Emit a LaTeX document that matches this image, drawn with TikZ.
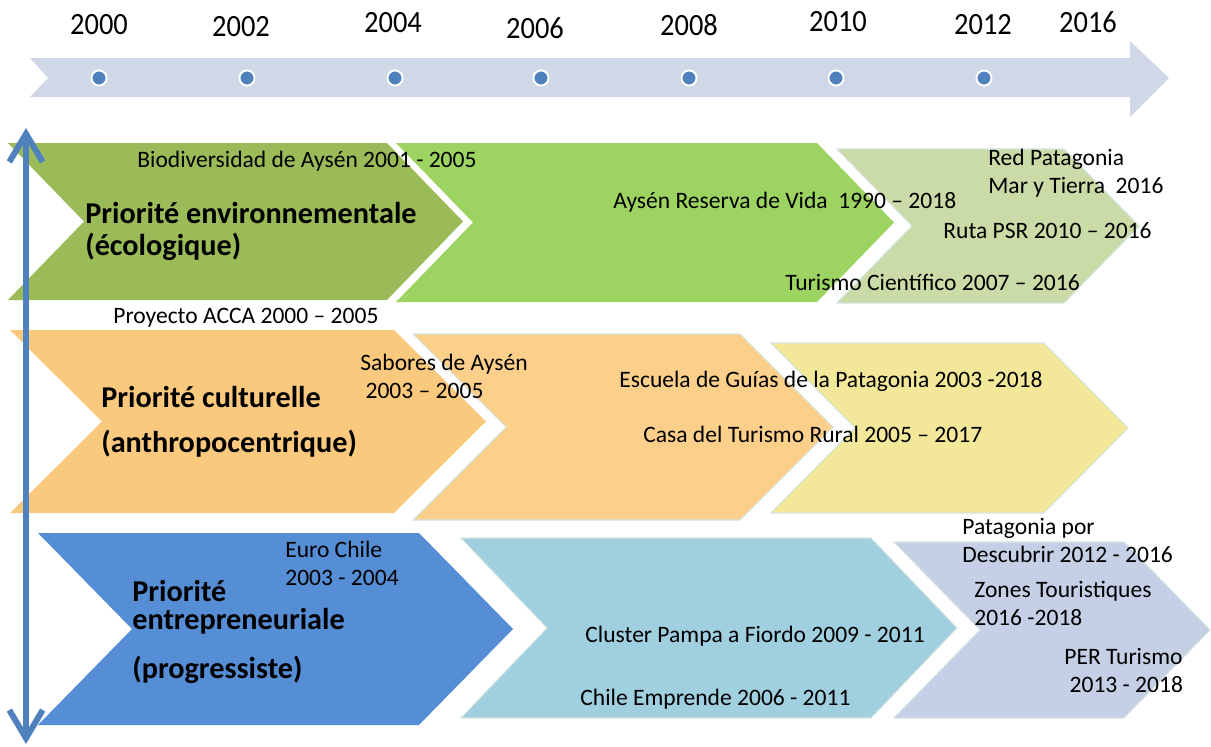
\documentclass[tikz,border=0pt]{standalone}
\usepackage{fontspec}
\setmainfont{Carlito}
\newfontfamily\yearfamily{Carlito}[FakeStretch=0.92]
\usepackage{tikz}
\usetikzlibrary{arrows.meta, positioning}
\definecolor{band}{RGB}{208,216,232}
\definecolor{axisblue}{RGB}{79,129,189}
\definecolor{envA}{RGB}{155,187,89}
\definecolor{envB}{RGB}{157,211,96}
\definecolor{envC}{RGB}{202,219,167}
\definecolor{culA}{RGB}{250,201,125}
\definecolor{culB}{RGB}{252,208,139}
\definecolor{culC}{RGB}{243,232,154}
\definecolor{entA}{RGB}{85,142,213}
\definecolor{entB}{RGB}{160,208,224}
\definecolor{entC}{RGB}{197,208,231}
\definecolor{rim}{RGB}{211,228,224}

\begin{document}
\begin{tikzpicture}[x=0.02cm, y=-0.02cm,
  txt/.style={anchor=base west, inner sep=0pt, align=left, font=\fontsize{13.4}{15.9}\selectfont},
  lab/.style={anchor=base west, inner sep=0pt, align=left, font=\bfseries\fontsize{17.2}{18.1}\selectfont},
  yearlab/.style={inner sep=0pt, font=\yearfamily\fontsize{17.6}{20}\selectfont}]
  \useasboundingbox (0,0) rectangle (1211,747);
  % timeline
  \fill[band] (30,58) -- (1130,58) -- (1130,41) -- (1169,78) -- (1130,117)
    -- (1130,97) -- (30,97) -- (48,78) -- cycle;
  \foreach \xd/\xl/\yl/\yy in {99/99/25/2000, 247/241/27/2002, 395/393/23/2004,
                               541/535/28/2006, 689/689/25/2008, 836/838/22/2010,
                               984/983/25/2012} {
    \fill[axisblue, draw=white, line width=1.1pt] (\xd,78) circle (4.3pt);
    \node[yearlab] (y\yy) at (\xl,\yl) {\yy};
  }
  \node[yearlab] (y2016) at (1088,22) {2016};
  % chevrons
  \foreach \col/\edge/\xa/\ya/\yb/\xb/\dd in {
      envA/none/8/143/300/387/76, envB/none/396/143/302/817/77,
      envC/rim/837/149/303/1064/75,
      culA/none/10/330/513/394/92, culB/rim/413/334/520/740/93,
      culC/rim/771/343/513/1044/84,
      entA/none/38/533/725/419/94, entB/rim/461/538/718/871/86,
      entC/rim/894/542/718/1124/86} {
    \filldraw[fill=\col, draw=\edge, line width=0.6pt] (\xa,\ya) -- (\xb,\ya)
      -- ({\xb+\dd},{(\ya+\yb)/2}) -- (\xb,\yb) -- (\xa,\yb)
      -- ({\xa+\dd},{(\ya+\yb)/2}) -- cycle;
  }
  % axis
  \coordinate (axtop) at (26,128);
  \coordinate (axbot) at (26,744);
  \draw[axisblue, line width=3.4pt,
    {Straight Barb[length=16pt,width=19pt]}-{Straight Barb[length=16pt,width=19pt]}]
    (axbot) -- (axtop);
  % row 1
  \node[txt] (bio) at (137,167) {Biodiversidad de Aysén 2001 - 2005};
  \node[lab] (env) at (85,255) {Priorité environnementale\\(écologique)};
  \node[txt] (acca) at (113,323) {Proyecto ACCA 2000 – 2005};
  \node[txt] (reserva) at (613,208) {Aysén Reserva de Vida\ \ 1990 – 2018};
  \node[txt] (redpat) at (988,193) {Red Patagonia\\Mar y Tierra\ \ 2016};
  \node[txt] (ruta) at (943,238) {Ruta PSR 2010 – 2016};
  \node[txt] (cientifico) at (785,290) {Turismo Científico 2007 – 2016};
  % row 2
  \node[lab] (cult) at (101,452) {Priorité culturelle\\[7pt](anthropocentrique)};
  \node[txt] (sabores) at (360,398) {Sabores de Aysén\\\hspace*{3pt}2003 – 2005};
  \node[txt] (escuela) at (619,387) {Escuela de Guías de la Patagonia 2003 -2018};
  \node[txt] (casa) at (643,442) {Casa del Turismo Rural 2005 – 2017};
  % row 3
  \node[lab] (entre) at (132,678) {Priorité\\[-2.2pt]entrepreneuriale\\[9.7pt](progressiste)};
  \node[txt] (euro) at (285,585) {Euro Chile\\2003 - 2004};
  \node[txt] (cluster) at (585,642) {Cluster Pampa a Fiordo 2009 - 2011};
  \node[txt] (emprende) at (580,705) {Chile Emprende 2006 - 2011};
  \node[txt] (patagonia) at (962,562) {Patagonia por\\Descubrir 2012 - 2016};
  \node[txt] (zones) at (974,625) {Zones Touristiques\\2016 -2018};
  \node[txt] (per) at (1064,692) {PER Turismo\\\hspace*{3pt}2013 - 2018};
\end{tikzpicture}
\end{document}
